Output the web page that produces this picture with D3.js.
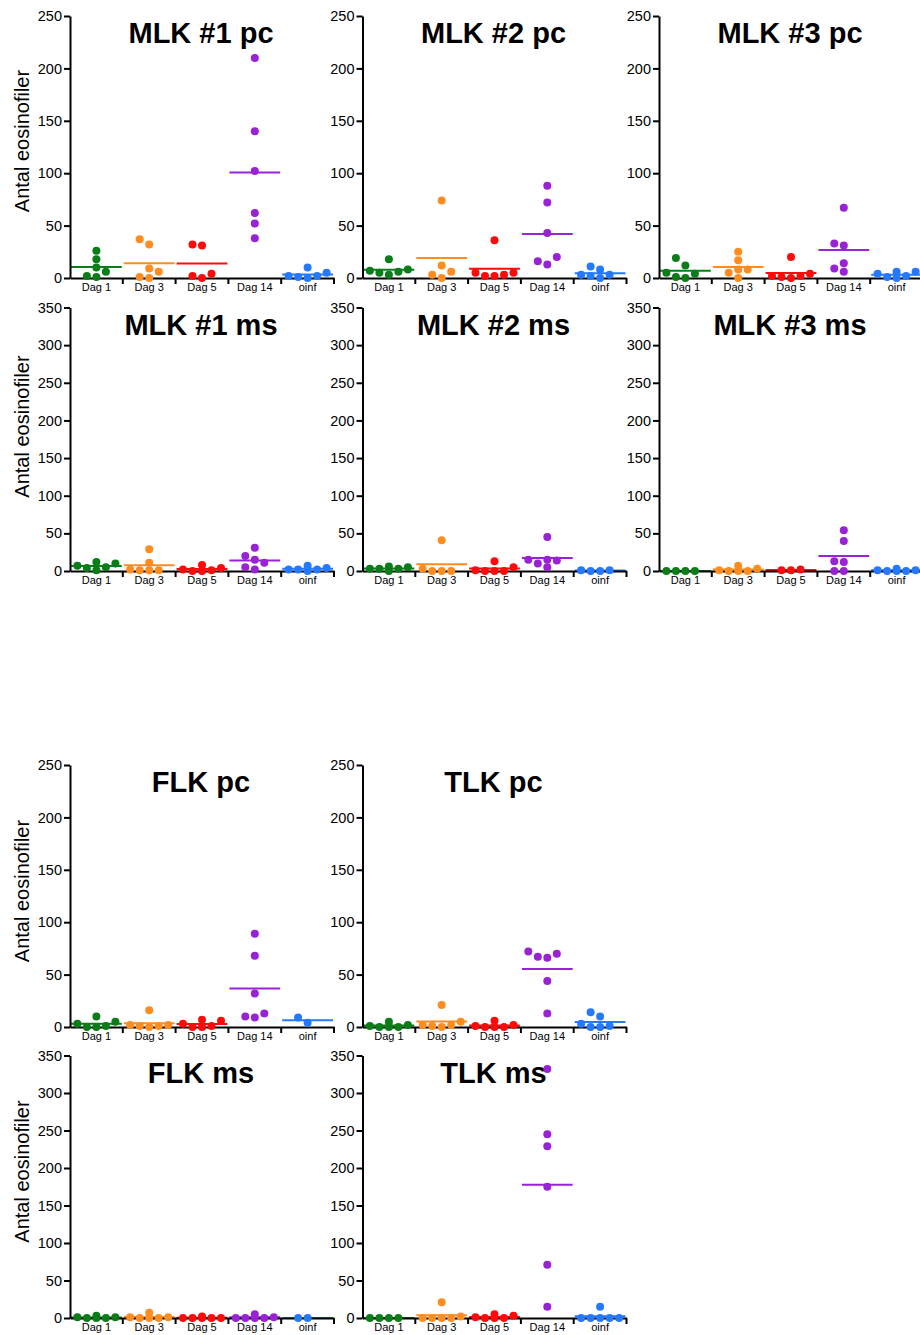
<!DOCTYPE html>
<html>
<head>
<meta charset="utf-8">
<script src="https://cdn.jsdelivr.net/npm/d3@7"></script>
<style>
  html, body { margin: 0; padding: 0; background: #fff; }
  svg { display: block; font-family: "Liberation Sans", Arial, Helvetica, sans-serif; }
</style>
</head>
<body>
<svg id="chart" width="920" height="1335"></svg>
<script>
// kategorier och färger
const categories = ['Dag 1', 'Dag 3', 'Dag 5', 'Dag 14', 'oinf'];
const groupColors = ['#0b7d18', '#ff8c1f', '#ff0a0a', '#9922d4', '#2479ff'];
const ticksPc = [0, 50, 100, 150, 200, 250];
const ticksMs = [0, 50, 100, 150, 200, 250, 300, 350];
const yLabel = 'Antal eosinofiler';

// värden per grupp (Dag 1, Dag 3, Dag 5, Dag 14, oinf)
const mlk1Pc = [[10, 2, 1, 18, 26, 6], [9, 1, 0, 6, 32, 37], [4, 0, 31, 2, 32], [210, 140, 102, 62, 52, 38], [2, 0, 10, 1, 2, 5]];
const mlk2Pc = [[7, 5, 18, 3, 6, 8], [3, 0, 12, 74, 6], [5, 2, 2, 36, 3, 5], [88, 72, 43, 16, 13, 20], [3, 2, 11, 0, 3, 8]];
const mlk3Pc = [[5, 1, 12, 0, 19, 4], [8, 5, 17, 0, 25, 8], [2, 1, 20, 0, 2, 4], [33, 31, 67, 6, 9, 14], [4, 1, 6, 0, 6, 2]];
const mlk1Ms = [[7, 4, 12, 1, 5, 10], [2, 1, 29, 1, 1, 11], [2, 0, 8, 0, 1, 4], [15, 5, 20, 2, 31, 11], [2, 2, 7, 0, 2, 4]];
const mlk2Ms = [[3, 3, 6, 0, 3, 5], [3, 0, 41, 0, 0], [1, 0, 13, 0, 0, 5], [14, 10, 45, 5, 15, 15], [0, 0, 1, 1]];
const mlk3Ms = [[0, 0, 0, 0], [1, 0, 7, 0, 0, 3], [1, 1, 2], [13, 0, 40, 0, 54, 12], [1, 0, 3, 0, 0, 1]];
const flkPc = [[3, 0, 10, 0, 1, 5], [2, 1, 16, 0, 1, 2], [3, 0, 7, 0, 1, 6], [89, 68, 32, 10, 9, 13], [9, 4]];
const tlkPc = [[1, 0, 5, 0, 0, 2], [2, 1, 21, 0, 2, 5], [1, 0, 6, 0, 0, 2], [72, 67, 66, 70, 44, 13], [3, 0, 14, 0, 1, 10]];
const flkMs = [[1, 0, 3, 0, 0, 1], [0, 0, 7, 1, 0, 1], [0, 0, 2, 0, 0, 0], [0, 0, 5, 0, 0, 1], [0, 0]];
const tlkMs = [[0, 0, 0, 0], [0, 0, 21, 0, 0, 2], [1, 0, 5, 0, 0, 3], [332, 245, 229, 175, 71, 15], [0, 0, 15, 0, 0, 0]];

// layout: axelns x, y-topp, y-botten
const cols = [70, 362.5, 659];
const rows = [
    { top: 16, bottom: 278, ticks: ticksPc, labelDy: 125 },
    { top: 307.5, bottom: 571, ticks: ticksMs, labelDy: 119 },
    { top: 765, bottom: 1027, ticks: ticksPc, labelDy: 126 },
    { top: 1055.5, bottom: 1318, ticks: ticksMs, labelDy: 116 }
];
const panels = [
    { title: 'MLK #1 pc', data: mlk1Pc, row: 0, col: 0 },
    { title: 'MLK #2 pc', data: mlk2Pc, row: 0, col: 1 },
    { title: 'MLK #3 pc', data: mlk3Pc, row: 0, col: 2 },
    { title: 'MLK #1 ms', data: mlk1Ms, row: 1, col: 0 },
    { title: 'MLK #2 ms', data: mlk2Ms, row: 1, col: 1 },
    { title: 'MLK #3 ms', data: mlk3Ms, row: 1, col: 2 },
    { title: 'FLK pc', data: flkPc, row: 2, col: 0 },
    { title: 'TLK pc', data: tlkPc, row: 2, col: 1 },
    { title: 'FLK ms', data: flkMs, row: 3, col: 0 },
    { title: 'TLK ms', data: tlkMs, row: 3, col: 1 }
];

const groupW = 52.8;
const r = 4;
const slotStep = 9.5;

const svg = d3.select('#chart');
svg.append('rect').attr('width', 920).attr('height', 1335).attr('fill', '#fff');

// enkel beeswarm: lägg punkter i närmaste lediga kolumn (max 5 kolumner)
function swarm(values, y) {
    let placed = [];
    let order = values.map((v, i) => i).sort((a, b) => values[a] - values[b]);
    let slots = [0, -1, 1, -2, 2];
    order.forEach(i => {
        let py = y(values[i]);
        let gap = k => d3.min(placed.filter(p => p.slot === k), p => Math.abs(p.py - py));
        let s = slots.find(k => !(gap(k) < 2 * r - 0.5));
        if (s === undefined) {
            s = slots.reduce((best, k) => (gap(k) > gap(best) ? k : best), slots[0]);
        }
        placed.push({ slot: s, py: py, v: values[i] });
    });
    return placed;
}

panels.forEach(p => {
    let row = rows[p.row];
    let x0 = cols[p.col];
    let yMax = d3.max(row.ticks);
    let y = d3.scaleLinear().domain([0, yMax]).range([row.bottom, row.top]);
    let x = d3.scaleBand().domain(categories).range([x0, x0 + groupW * categories.length]).paddingInner(0).paddingOuter(0);
    let g = svg.append('g');

    // titel
    g.append('text')
        .attr('x', x0 + groupW * categories.length / 2 - 1)
        .attr('y', row.top + 27)
        .attr('text-anchor', 'middle')
        .attr('font-size', 29)
        .attr('font-weight', 'bold')
        .text(p.title);

    // y-axelns rubrik bara i vänstra kolumnen
    if (p.col === 0) {
        g.append('text')
            .attr('transform', `translate(29,${row.top + row.labelDy}) rotate(-90)`)
            .attr('text-anchor', 'middle')
            .attr('font-size', 20)
            .text(yLabel);
    }

    // medelvärdeslinjer
    p.data.forEach((vals, i) => {
        let cat = categories[i];
        g.append('line')
            .attr('x1', x(cat) + 1)
            .attr('x2', x(cat) + x.bandwidth() - 1)
            .attr('y1', y(d3.mean(vals)))
            .attr('y2', y(d3.mean(vals)))
            .attr('stroke', groupColors[i])
            .attr('stroke-width', 2);
    });

    // x-axel
    let xAxis = g.append('g')
        .attr('transform', `translate(0,${row.bottom})`)
        .call(d3.axisBottom(x).tickSize(0).tickPadding(5));
    xAxis.attr('font-family', null);
    xAxis.select('.domain').attr('stroke', '#000').attr('stroke-width', 2);
    xAxis.selectAll('text').attr('font-size', 11).attr('fill', '#000');
    categories.forEach(cat => {
        xAxis.append('line')
            .attr('x1', x(cat) + x.bandwidth())
            .attr('x2', x(cat) + x.bandwidth())
            .attr('y1', 0)
            .attr('y2', 6)
            .attr('stroke', '#000')
            .attr('stroke-width', 2);
    });

    // y-axel
    let yAxis = g.append('g')
        .attr('transform', `translate(${x0},0)`)
        .call(d3.axisLeft(y).tickValues(row.ticks).tickSize(6).tickSizeOuter(0).tickPadding(2));
    yAxis.attr('font-family', null);
    yAxis.select('.domain').attr('stroke', '#000').attr('stroke-width', 2);
    yAxis.selectAll('.tick line').attr('stroke', '#000').attr('stroke-width', 2);
    yAxis.selectAll('text').attr('font-size', 14.5).attr('fill', '#000');

    // punkter
    p.data.forEach((vals, i) => {
        let cx = x(categories[i]) + x.bandwidth() / 2;
        g.append('g').selectAll('circle')
            .data(swarm(vals, y))
            .join('circle')
            .attr('cx', d => cx + d.slot * slotStep)
            .attr('cy', d => d.py)
            .attr('r', r)
            .attr('fill', groupColors[i]);
    });
});
</script>
</body>
</html>
